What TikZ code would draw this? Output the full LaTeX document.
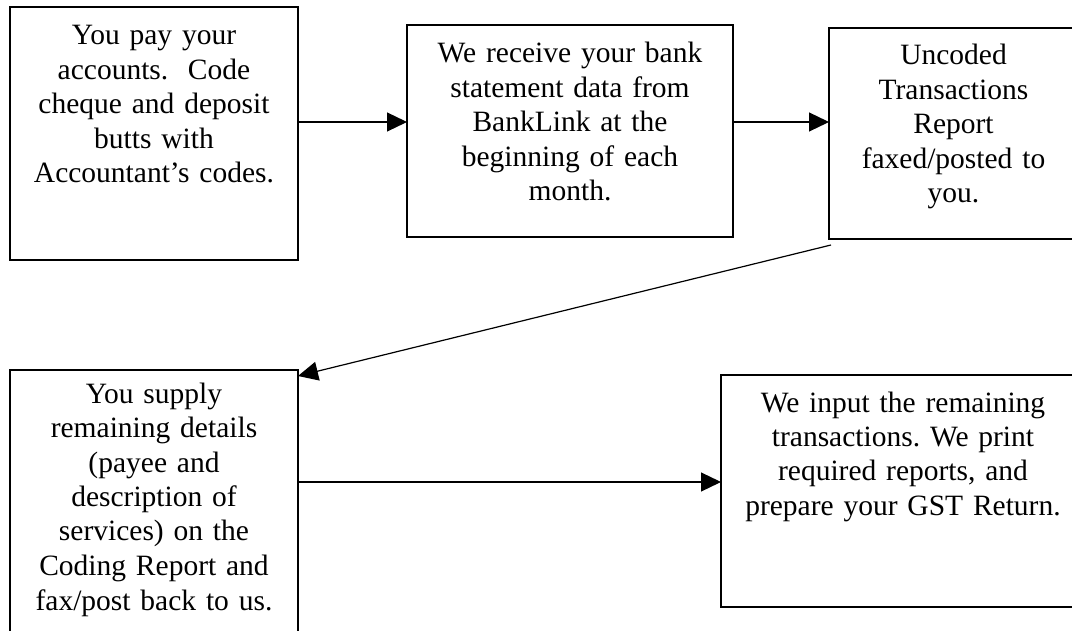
\documentclass[tikz,border=0pt]{standalone}
\usepackage{fontspec}
\setmainfont{Liberation Serif}
\usetikzlibrary{arrows.meta,calc}
\frenchspacing
\begin{document}
\begin{tikzpicture}[x=1pt,y=1pt,
  box/.style={draw=black, line width=1.2pt, inner sep=0pt, outer sep=0pt, anchor=north west},
  txt/.style={anchor=base, inner sep=0pt, outer sep=0pt, align=center, font=\fontsize{29.5}{34.5}\selectfont},
  arr/.style={line width=1.2pt, -{Triangle[length=20pt,width=19pt]}}]
\useasboundingbox (0,0) rectangle (1072,-631);
\clip (0,0) rectangle (1072,-631);
\fill[white] (0,0) rectangle (1072,-631);
% boxes
\node[box, minimum width=288pt, minimum height=253pt] (b1) at (10,-7) {};
\node[box, minimum width=326pt, minimum height=212pt] (b2) at (407,-25) {};
\node[box, minimum width=249pt, minimum height=211pt] (b3) at (829,-28) {};
\node[box, minimum width=288pt, minimum height=275pt] (b4) at (10,-370) {};
\node[box, minimum width=364pt, minimum height=232pt] (b5) at (721,-375) {};
% texts
\node[txt, text width=270pt] (t1) at ($(b1.north)+(0,-38)$) {You pay your\\accounts.\ \ Code\\cheque and deposit\\butts with\\Accountant’s codes.};
\node[txt, text width=300pt] (t2) at ($(b2.north)+(0,-38)$) {We receive your bank\\statement data from\\BankLink at the\\beginning of each\\month.};
\node[txt, text width=230pt] (t3) at ($(b3.north)+(0,-37)$) {Uncoded\\Transactions\\Report\\faxed/posted to\\you.};
\node[txt, text width=270pt] (t4) at ($(b4.north)+(0,-33)$) {You supply\\remaining details\\(payee and\\description of\\services) on the\\Coding Report and\\fax/post back to us.};
\node[txt, text width=340pt] (t5) at ($(b5.north)+(0,-37)$) {We input the remaining\\transactions. We print\\required reports, and\\prepare your GST Return.};
% connectors
\coordinate (r1) at (0,-122);
\coordinate (r2) at (0,-482);
\draw[arr] (b1.east |- r1) -- (b2.west |- r1);
\draw[arr] (b2.east |- r1) -- (b3.west |- r1);
\draw[arr] ([shift={(2,-6)}]b3.south west) -- ([shift={(0,-6)}]b4.north east);
\draw[arr] (b4.east |- r2) -- (b5.west |- r2);
\end{tikzpicture}
\end{document}
